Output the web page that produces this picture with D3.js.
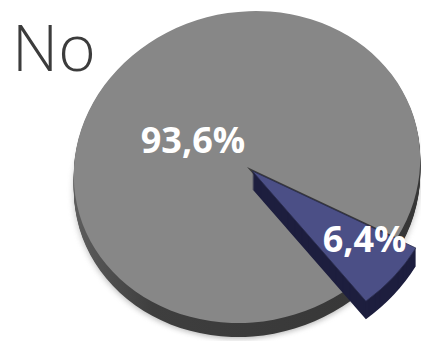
<!DOCTYPE html>
<html>
<head>
<meta charset="utf-8">
<script src="https://cdn.jsdelivr.net/npm/d3@7"></script>
<style>
  html, body { margin: 0; padding: 0; background: #ffffff; }
  svg { display: block; }
</style>
</head>
<body>
<svg id="chart" width="421" height="341"></svg>
<script>
// ---- data ----
const title = "No";
const categories = ["Resto", "Segmento"];
const values = [93.6, 6.4];
const valueLabels = ["93,6%", "6,4%"];

// ---- layout / style ----
const W = 421, H = 341;
const cx = 247, cy = 167;        // centre of the top face
const R = 173;                   // radius in circle space
const squash = 156 / 173;        // vertical scale (ellipse)
const skew = -0.058;             // perspective skew
const thickness = [14, 18];
const startDeg = -220;           // pie rotation
const topColors = ["#878787", "#4b4f86"];
const sideColors = ["#3b3b3b", "#1d1e3e"];
const explode = [0, 7];
const outerScale = [1, 1.09];
const labelR = [0.37, 0.85];
const labelNudge = [[-6, 9], [2, -14]];

const svg = d3.select("#chart");
const defs = svg.append("defs");

const grad = defs.append("linearGradient")
  .attr("id", "sideGrad").attr("gradientUnits", "userSpaceOnUse")
  .attr("x1", -R).attr("x2", R).attr("y1", 0).attr("y2", 0);
grad.append("stop").attr("offset", "0%").attr("stop-color", "#5e5e5e");
grad.append("stop").attr("offset", "25%").attr("stop-color", "#3e3e3e");
grad.append("stop").attr("offset", "100%").attr("stop-color", "#363636");

const blur = defs.append("filter").attr("id", "soft")
  .attr("x", "-10%").attr("y", "-10%").attr("width", "120%").attr("height", "120%");
blur.append("feGaussianBlur").attr("stdDeviation", 3);

const pie = d3.pie().sort(null)
  .startAngle(startDeg * Math.PI / 180)
  .endAngle(startDeg * Math.PI / 180 + 2 * Math.PI);
const arcsData = pie(values);

function arcFor(i) {
  return d3.arc().innerRadius(0).outerRadius(R * outerScale[i]);
}
function offsetFor(d, i) {
  const a = (d.startAngle + d.endAngle) / 2;
  return [Math.sin(a) * explode[i], -Math.cos(a) * explode[i]];
}
const mat = `matrix(1,0,${skew * squash},${squash},${cx},${cy})`;
function toScreen(p) {
  return [cx + p[0] + skew * squash * p[1], cy + squash * p[1]];
}

// soft shadow under the pie
svg.append("g")
  .attr("transform", `translate(0,${thickness[0] + 2}) ${mat}`)
  .append("path")
  .attr("d", d3.arc().innerRadius(0).outerRadius(R)({startAngle: 0, endAngle: 2 * Math.PI}))
  .attr("fill", "#888").attr("opacity", 0.55).attr("filter", "url(#soft)");

function drawSlice(i) {
  const d = arcsData[i];
  const off = offsetFor(d, i);
  const arc = arcFor(i);
  for (let t = thickness[i]; t >= 1; t--) {
    svg.append("g")
      .attr("transform", `translate(0,${t}) ${mat}`)
      .append("path")
      .attr("transform", `translate(${off[0]},${off[1]})`)
      .attr("d", arc(d))
      .attr("fill", i === 0 ? "url(#sideGrad)" : sideColors[i]);
  }
  svg.append("g")
    .attr("transform", mat)
    .append("path")
    .attr("transform", `translate(${off[0]},${off[1]})`)
    .attr("d", arc(d))
    .attr("fill", topColors[i])
    .attr("stroke", i === 0 ? "none" : "#2a2c4c")
    .attr("stroke-width", 0.8);
}
drawSlice(0);
drawSlice(1);

// labels
arcsData.forEach((d, i) => {
  const a = (d.startAngle + d.endAngle) / 2;
  const off = offsetFor(d, i);
  const p = toScreen([Math.sin(a) * R * labelR[i] + off[0], -Math.cos(a) * R * labelR[i] + off[1]]);
  svg.append("text")
    .attr("x", p[0] + labelNudge[i][0])
    .attr("y", p[1] + labelNudge[i][1] + 13)
    .attr("text-anchor", "middle")
    .attr("font-family", "'Open Sans', sans-serif")
    .attr("font-weight", 700)
    .attr("font-size", 36)
    .attr("fill", "#ffffff")
    .text(valueLabels[i]);
});

// title
svg.append("text")
  .attr("x", 12).attr("y", 71)
  .attr("font-family", "'Open Sans', sans-serif")
  .attr("font-weight", 350)
  .attr("font-size", 64)
  .attr("fill", "#3c3c3c")
  .text(title);
</script>
</body>
</html>
